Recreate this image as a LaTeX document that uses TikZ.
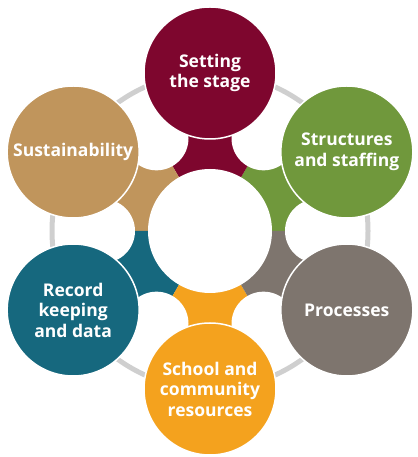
\documentclass[tikz,border=0pt]{standalone}
\usepackage{fontspec}
\setmainfont{Open Sans}
\usetikzlibrary{calc}
\definecolor{bordo}{RGB}{126,6,46}
\definecolor{zold}{RGB}{112,152,60}
\definecolor{szurke}{RGB}{126,117,110}
\definecolor{narancs}{RGB}{244,162,30}
\definecolor{kekeszold}{RGB}{22,104,126}
\definecolor{barna}{RGB}{192,149,92}
\definecolor{gyuru}{RGB}{207,207,207}
\tikzset{
  nagykor/.style={circle, draw=white, line width=1.5pt, minimum size=132pt, inner sep=0pt,
    text=white, align=center, font=\bfseries\fontsize{17.5}{20.5}\selectfont},
  resz/.style={circle, fill=white, minimum size=64pt, inner sep=0pt}
}
\begin{document}
\begin{tikzpicture}[x=1pt, y=1pt]
    \useasboundingbox (0,0) rectangle (417,457);
    \coordinate (kozep) at (210,226);
    %A szürke gyűrű a körök középpontjain megy át
    \draw (kozep) circle (158pt) [color = gyuru, line width=5pt];
    %Hat színes cikk, ezekből vágnak ki a fehér körök
    \fill[zold] (kozep) -- ++(0:118pt) arc (0:60:118pt) -- cycle;
    \fill[bordo] (kozep) -- ++(60:118pt) arc (60:120:118pt) -- cycle;
    \fill[barna] (kozep) -- ++(120:118pt) arc (120:180:118pt) -- cycle;
    \fill[kekeszold] (kozep) -- ++(180:118pt) arc (180:240:118pt) -- cycle;
    \fill[narancs] (kozep) -- ++(240:118pt) arc (240:300:118pt) -- cycle;
    \fill[szurke] (kozep) -- ++(300:118pt) arc (300:360:118pt) -- cycle;
    \node[resz] (res1) at ($(kozep)+(0:107pt)$) {};
    \node[resz] (res2) at ($(kozep)+(60:107pt)$) {};
    \node[resz] (res3) at ($(kozep)+(120:107pt)$) {};
    \node[resz] (res4) at ($(kozep)+(180:107pt)$) {};
    \node[resz] (res5) at ($(kozep)+(240:107pt)$) {};
    \node[resz] (res6) at ($(kozep)+(300:107pt)$) {};
    \node[circle, fill=white, minimum size=124pt, inner sep=0pt] (belso) at (kozep) {};
    %A hat nagy kör a szövegekkel
    \node[nagykor, fill=bordo] (szinpad) at ($(kozep)+(90:158pt)$) {Setting\\the stage};
    \node[nagykor, fill=zold] (szerkezet) at ($(kozep)+(30:158pt)$) {Structures\\and staffing};
    \node[nagykor, fill=szurke] (folyamat) at ($(kozep)+(-30:158pt)$) {Processes};
    \node[nagykor, fill=narancs] (forras) at ($(kozep)+(-90:158pt)$) {School and\\community\\resources};
    \node[nagykor, fill=kekeszold] (adat) at ($(kozep)+(-150:158pt)$) {Record\\keeping\\and data};
    \node[nagykor, fill=barna] (fenntart) at ($(kozep)+(150:158pt)$) {Sustainability};
\end{tikzpicture}
\end{document}
